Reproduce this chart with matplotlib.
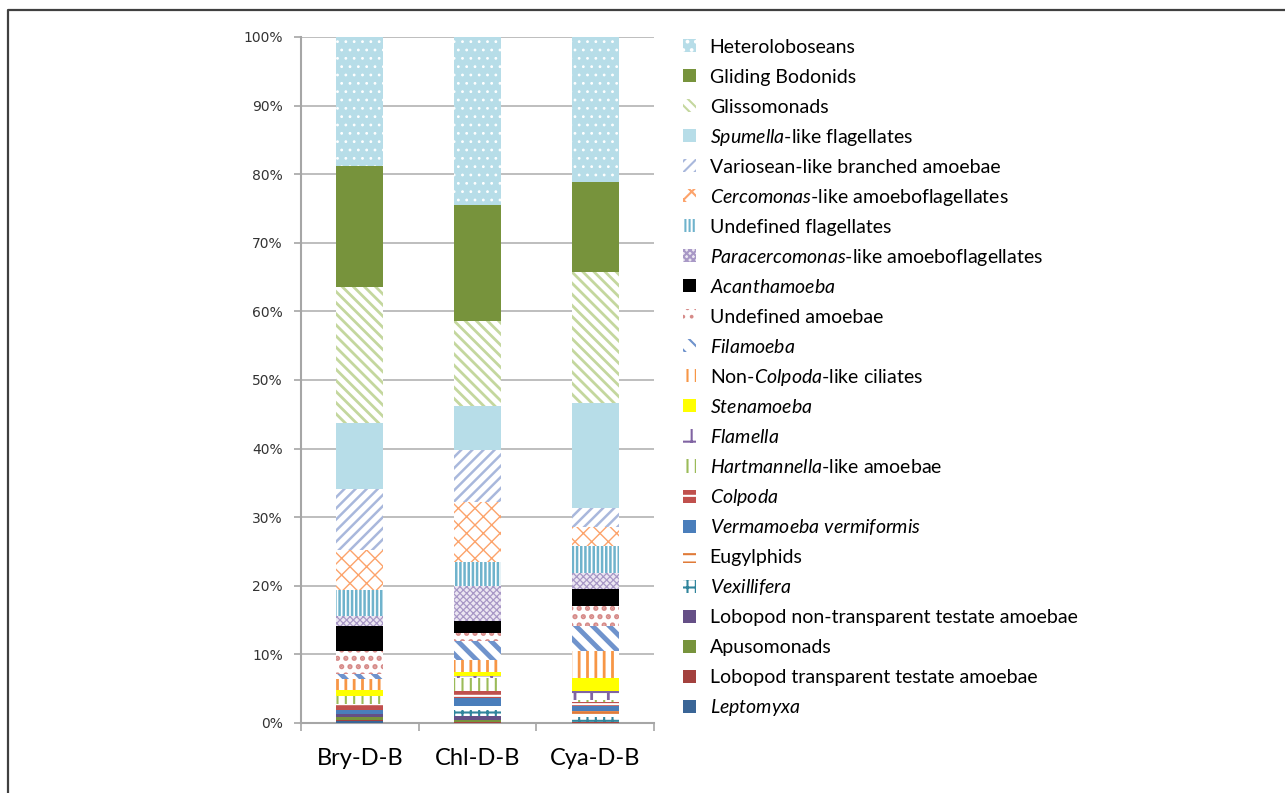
import matplotlib
matplotlib.use("Agg")
import matplotlib.pyplot as plt
from matplotlib.patches import Patch, Rectangle
from matplotlib.lines import Line2D
from matplotlib.legend_handler import HandlerPatch
import numpy as np

plt.rcParams["font.family"] = ["Lato", "DejaVu Sans"]
plt.rcParams["mathtext.fontset"] = "custom"
plt.rcParams["mathtext.rm"] = "Lato"
plt.rcParams["mathtext.it"] = "Lato:italic"
plt.rcParams["hatch.linewidth"] = 1.5

# Samples along the x axis
samples = ["Bry-D-B", "Chl-D-B", "Cya-D-B"]

# Taxonomic groups, listed from the bottom of each stack to the top
groups = [
    r"$\mathit{Leptomyxa}$",
    "Lobopod transparent testate amoebae",
    "Apusomonads",
    "Lobopod non-transparent testate amoebae",
    r"$\mathit{Vexillifera}$",
    "Eugylphids",
    r"$\mathit{Vermamoeba\ vermiformis}$",
    r"$\mathit{Colpoda}$",
    r"$\mathit{Hartmannella}$-like amoebae",
    r"$\mathit{Flamella}$",
    r"$\mathit{Stenamoeba}$",
    r"Non-$\mathit{Colpoda}$-like ciliates",
    r"$\mathit{Filamoeba}$",
    "Undefined amoebae",
    r"$\mathit{Acanthamoeba}$",
    r"$\mathit{Paracercomonas}$-like amoeboflagellates",
    "Undefined flagellates",
    r"$\mathit{Cercomonas}$-like amoeboflagellates",
    "Variosean-like branched amoebae",
    r"$\mathit{Spumella}$-like flagellates",
    "Glissomonads",
    "Gliding Bodonids",
    "Heteroloboseans",
]

# Relative abundance (%) of each group per sample, same order as `groups`
bry = [0.34, 0.10, 0.50, 0.35, 0.00, 0.05, 0.60, 0.80, 1.20, 0.05, 0.80, 1.60,
       0.70, 3.40, 3.60, 1.50, 3.80, 5.80, 8.90, 9.70, 19.70, 17.70, 18.80]
chl = [0.05, 0.05, 0.35, 0.50, 0.90, 0.70, 1.10, 1.00, 1.90, 0.35, 0.60, 1.75,
       2.67, 1.22, 1.70, 5.10, 3.60, 8.70, 7.50, 6.40, 12.40, 16.90, 24.56]
cya = [0.00, 0.20, 0.00, 0.00, 0.70, 0.90, 0.70, 0.50, 0.40, 1.20, 2.00, 3.90,
       3.60, 2.90, 2.60, 2.30, 3.90, 2.70, 2.90, 15.20, 19.10, 13.20, 21.10]

ytick_labels = ["0%", "10%", "20%", "30%", "40%", "50%", "60%", "70%", "80%", "90%", "100%"]

# Fill colour, hatch pattern and hatch colour per group
face = ["#3a6596", "#a3413e", "#77933c", "#654f86", "white", "white", "#4a7ebb",
        "#c0504d", "white", "white", "#ffff00", "white", "white", "white", "#000000",
        "#ece7f2", "white", "white", "white", "#b7dde8", "white", "#77933c", "#b7dde8"]
hatch = [None, None, None, None, "++", "--", None,
         "--", "||", "+", None, "||", "\\\\", "..", None,
         "xxxxx", "||||", "xx", "///", None, "\\\\\\", None, ".."]
hcolor = ["#3a6596", "#a3413e", "#77933c", "#654f86", "#31859c", "#e07b39", "#4a7ebb",
          "white", "#9bbb59", "#8064a2", "#ffff00", "#f79646", "#6f93cc", "#d68a88", "#000000",
          "#a898c6", "#6fb3cc", "#fca36b", "#a9b8dc", "#b7dde8", "#c4d79e", "#77933c", "white"]
hlw = [1.0, 1.0, 1.0, 1.0, 1.5, 2.0, 1.0, 1.5, 1.5, 2.0, 1.0, 2.0,
       3.5, 2.5, 1.0, 0.9, 1.8, 1.0, 1.8, 1.0, 2.0, 1.0, 0.8]

W, H = 1285, 793
fig = plt.figure(figsize=(W / 100, H / 100), dpi=100)
ax = fig.add_axes([301 / W, 1 - 723 / H, 353 / W, 686 / H])

data = np.array([bry, chl, cya], dtype=float)
data = data / data.sum(axis=1, keepdims=True)
x = np.arange(len(samples))
bottom = np.zeros(len(samples))
handles = []
for i, name in enumerate(groups):
    bars = ax.bar(x, data[:, i], width=0.4, bottom=bottom, color=face[i],
                  hatch=hatch[i], edgecolor=hcolor[i], linewidth=0, zorder=3)
    for b in bars:
        if hasattr(b, "set_hatch_linewidth"):
            b.set_hatch_linewidth(hlw[i])
    bottom += data[:, i]
    h = Patch(facecolor=face[i], hatch=hatch[i], edgecolor=hcolor[i], linewidth=0,
              label=name)
    if hasattr(h, "set_hatch_linewidth"):
        h.set_hatch_linewidth(hlw[i])
    handles.append(h)

ax.set_xlim(-0.5, 2.5)
ax.set_ylim(0, 1)
ax.set_yticks(np.linspace(0, 1, 11))
ax.set_yticklabels(ytick_labels, fontfamily="DejaVu Sans", fontsize=10, color="#333333")
ax.yaxis.grid(True, color="#b3b3b3", linewidth=1.2, zorder=0)
ax.set_axisbelow(True)

ax.set_xticks([-0.5, 0.5, 1.5, 2.5])
ax.set_xticklabels([])
ax.set_xticks(x, minor=True)
ax.set_xticklabels(samples, minor=True, fontsize=17, color="black")
ax.tick_params(axis="x", which="major", direction="out", length=6, width=1.2, color="#a6a6a6")
ax.tick_params(axis="x", which="minor", length=0, pad=18)
ax.tick_params(axis="y", direction="out", length=5, width=1.2, color="#a6a6a6", pad=8)

for s in ["top", "right"]:
    ax.spines[s].set_visible(False)
for s in ["left", "bottom"]:
    ax.spines[s].set_color("#a6a6a6")
    ax.spines[s].set_linewidth(1.5)


def small_square(legend, orig_handle, xdescent, ydescent, width, height, fontsize):
    # Square key sitting on the text baseline, independent of the row height
    side = 0.67 * fontsize
    return Rectangle((-xdescent, 0.02 * fontsize), side, side)


LEG_FS = 14
leg = fig.legend(handles=handles[::-1], loc="upper left",
                 bbox_to_anchor=(683 / W, 1 - 31.5 / H), frameon=False,
                 fontsize=LEG_FS, handlelength=0.67, handleheight=1.998,
                 handletextpad=0.7, labelspacing=0.0, borderpad=0, borderaxespad=0,
                 handler_map={Patch: HandlerPatch(patch_func=small_square)})

# Outer frame around the figure
fig.add_artist(Line2D([8 / W, 8 / W, 1.0], [0.0, 1 - 10 / H, 1 - 10 / H],
                      transform=fig.transFigure, color="#404040", linewidth=1.6))

fig.savefig("out.png", dpi=100)
